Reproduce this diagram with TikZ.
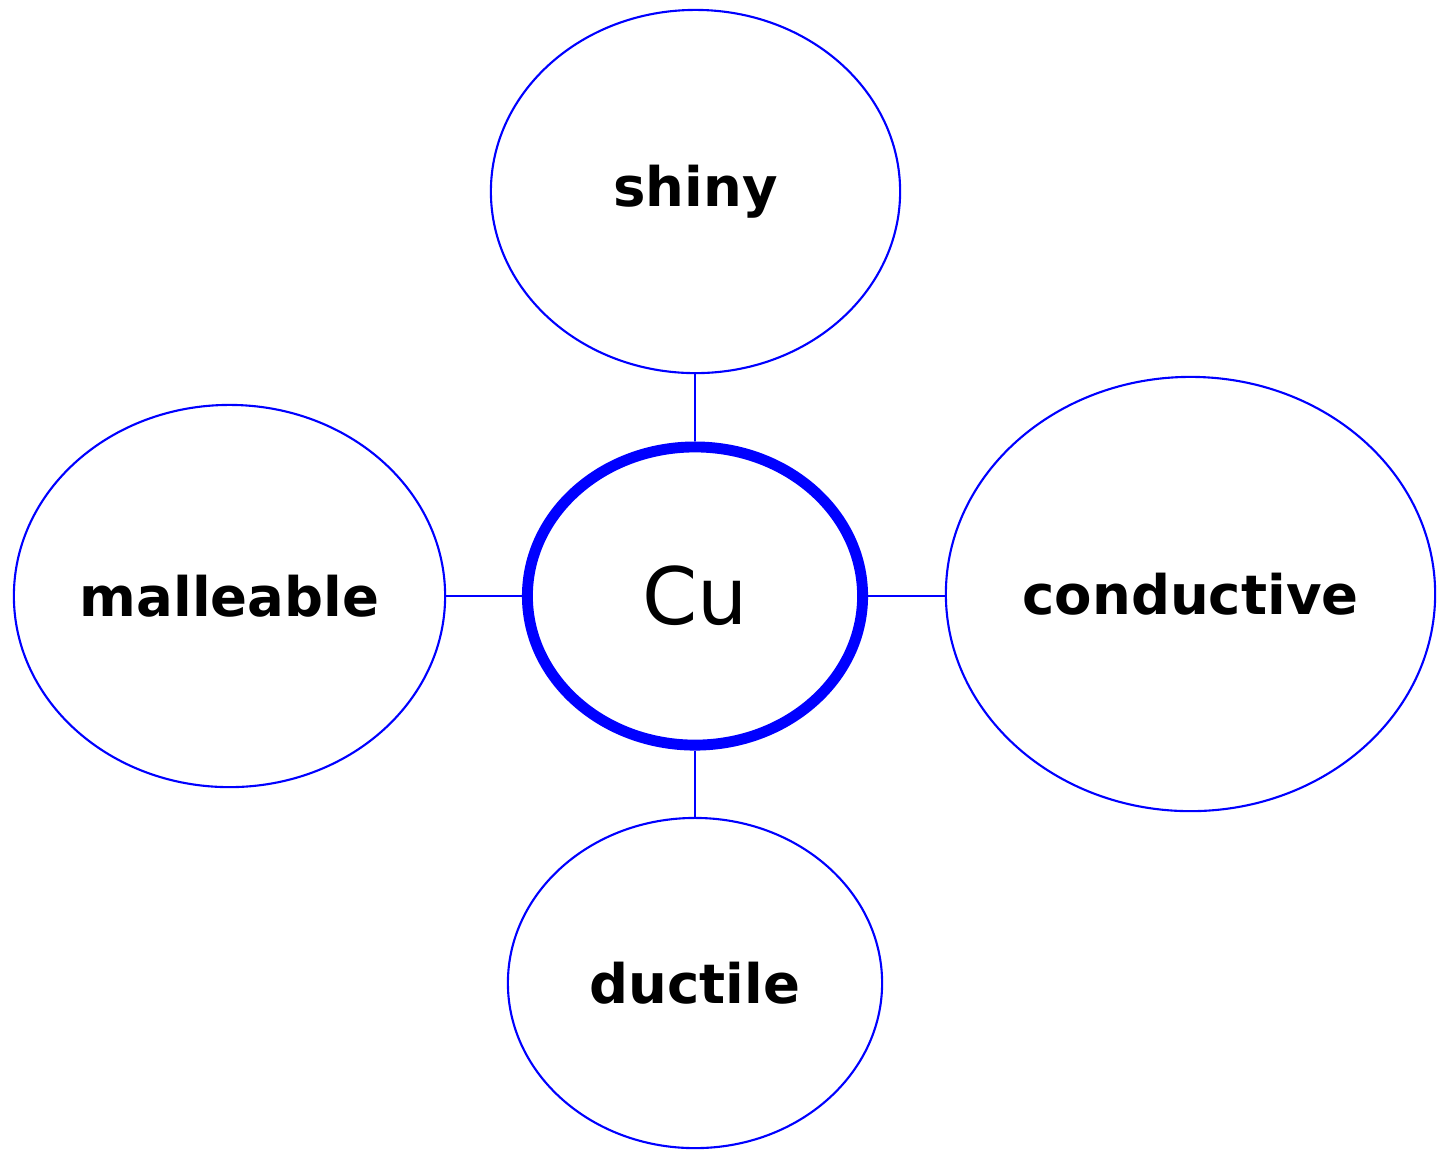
\documentclass[tikz,border=0pt]{standalone}
\usepackage{fontspec}
\setmainfont{DejaVu Sans}
\usetikzlibrary{shapes.geometric}
\definecolor{mapblue}{RGB}{0,0,255}

\begin{document}
\begin{tikzpicture}[
  x=0.01cm, y=-0.01cm,
  prop/.style={ellipse, draw=mapblue, line width=0.6pt, inner sep=0pt,
    font=\fontsize{15.5}{18}\selectfont\bfseries},
  core/.style={ellipse, draw=mapblue, line width=3.1pt, inner sep=0pt,
    font=\fontsize{22.5}{26}\selectfont},
  link/.style={draw=mapblue, line width=0.6pt}
]
  \useasboundingbox (0,0) rectangle (1437,1150);
  % centre
  \node[core, minimum width=3.35cm, minimum height=2.98cm] (cu) at (695,596) {Cu};
  % properties round the centre
  \node[prop, minimum width=4.09cm, minimum height=3.63cm] (shiny) at (695.5,191.5) {\raisebox{-1.5mm}{shiny}};
  \node[prop, minimum width=4.31cm, minimum height=3.82cm] (malleable) at (229.5,596) {malleable};
  \node[prop, minimum width=4.89cm, minimum height=4.34cm] (conductive) at (1190.5,594) {conductive};
  \node[prop, minimum width=3.74cm, minimum height=3.30cm] (ductile) at (695,983) {ductile};
  % links
  \draw[link] (cu.north) -- (cu.north |- shiny.south);
  \draw[link] (malleable.east) -- (cu.west);
  \draw[link] (cu.east) -- (conductive.west |- cu.east);
  \draw[link] (cu.south) -- (ductile.north);
\end{tikzpicture}
\end{document}
